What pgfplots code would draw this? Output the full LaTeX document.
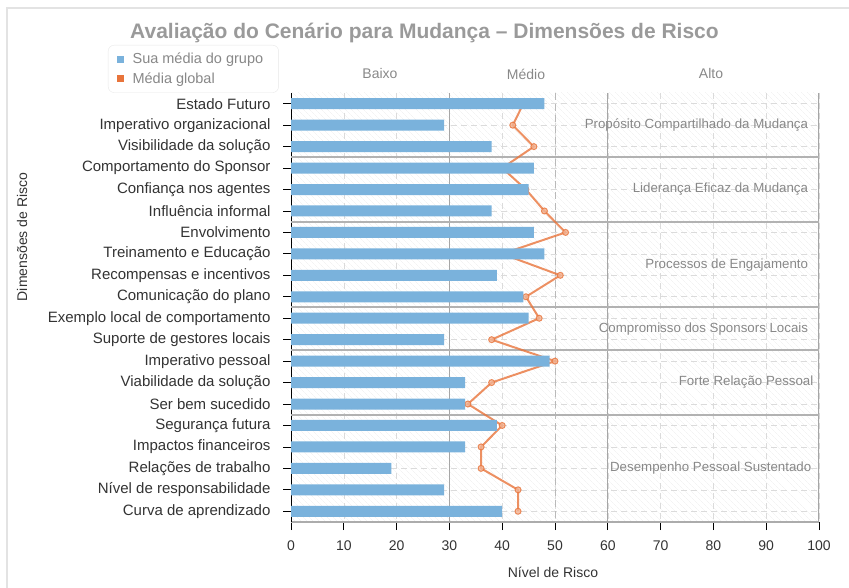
\documentclass[border=0pt]{standalone}
\usepackage{fontspec}
\setmainfont{Liberation Sans}
\usepackage{pgfplots}
\pgfplotsset{compat=1.18}
\usetikzlibrary{patterns.meta}
\definecolor{barblue}{HTML}{7AB2DC}
\definecolor{lineorange}{HTML}{E8743B}
\definecolor{titlegray}{HTML}{9A9A9A}
\definecolor{labgray}{HTML}{888888}
\definecolor{tickgray}{HTML}{333333}
\begin{document}
\begin{tikzpicture}[x=1pt,y=1pt]
\path[use as bounding box] (0,0) rectangle (849,588);
\draw[gray!22, line width=1.5pt] (7,0) -- (7,580) -- (849,580);
\node[font=\bfseries\fontsize{21}{24}\selectfont, text=titlegray] at (424.5,555) {Avaliação do Cenário para Mudança – Dimensões de Risco};
\node[rotate=90, font=\fontsize{14}{16}\selectfont, text=tickgray] at (22,351) {Dimensões de Risco};
\node[font=\fontsize{14}{16}\selectfont, text=tickgray] at (553,16) {Nível de Risco};
\node[font=\fontsize{14}{16}\selectfont, text=labgray] at (380,514) {Baixo};
\node[font=\fontsize{14}{16}\selectfont, text=labgray] at (526,514) {Médio};
\node[font=\fontsize{14}{16}\selectfont, text=labgray] at (711,514) {Alto};
\begin{axis}[
  at={(291pt,66pt)}, anchor=south west,
  width=528pt, height=429pt, scale only axis,
  xmin=0, xmax=100, ymin=0.5, ymax=20.5, y dir=reverse,
  xtick={0,10,...,100}, ytick={1,...,20},
  yticklabels={Estado Futuro, Imperativo organizacional, Visibilidade da solução, Comportamento do Sponsor, Confiança nos agentes, Influência informal, Envolvimento, Treinamento e Educação, Recompensas e incentivos, Comunicação do plano, Exemplo local de comportamento, Suporte de gestores locais, Imperativo pessoal, Viabilidade da solução, Ser bem sucedido, Segurança futura, Impactos financeiros, Relações de trabalho, Nível de responsabilidade, Curva de aprendizado},
  axis x line*=bottom, axis y line*=left,
  x axis line style={gray!65, line width=2pt},
  y axis line style={black, line width=0.9pt},
  tick align=outside, major tick length=8pt,
  tick style={black, line width=0.8pt},
  xmajorgrids, ymajorgrids,
  major grid style={gray!28, dash pattern=on 6pt off 4pt, line width=0.6pt},
  axis background/.style={pattern={Lines[angle=-45,distance=4pt,line width=0.4pt]}, pattern color=gray!15},
  /pgf/number format/assume math mode=true,
  xticklabel style={font=\fontsize{14}{16}\selectfont, text=tickgray, yshift=-7pt},
  yticklabel style={font=\fontsize{15}{17}\selectfont, text=tickgray, xshift=-9pt},
  legend style={at={(-0.3466,1.1119)}, anchor=north west, draw=gray!18, rounded corners=6pt, fill=white,
    font=\fontsize{14.5}{17}\selectfont, text=labgray, inner xsep=9pt, inner ysep=6pt, row sep=3pt},
  legend cell align=left,
  clip marker paths=true,
]
\addlegendimage{only marks, mark=square*, mark size=3.2pt, draw=barblue, fill=barblue, mark options={draw=barblue, fill=barblue}}
\addlegendentry{\makebox[142pt][l]{\hspace*{7pt}Sua média do grupo}}
\addlegendimage{only marks, mark=square*, mark size=3.2pt, draw=lineorange, fill=lineorange, mark options={draw=lineorange, fill=lineorange}}
\addlegendentry{\makebox[142pt][l]{\hspace*{7pt}Média global}}
% zone lines
\addplot[forget plot, gray!70, line width=1.1pt] coordinates {(30,0.5) (30,20.5)};
\addplot[forget plot, gray!70, line width=1.1pt] coordinates {(60,0.5) (60,20.5)};
\addplot[forget plot, gray!70, line width=1.1pt] coordinates {(100,0.5) (100,20.5)};
\addplot[forget plot, gray!55, line width=0.8pt, dash pattern=on 7pt off 4pt] coordinates {(50,0.5) (50,20.5)};
% group separators
\addplot[forget plot, gray!60, line width=2pt] coordinates {(0,3.5) (100,3.5)};
\addplot[forget plot, gray!60, line width=2pt] coordinates {(0,6.5) (100,6.5)};
\addplot[forget plot, gray!60, line width=2pt] coordinates {(0,10.5) (100,10.5)};
\addplot[forget plot, gray!60, line width=2pt] coordinates {(0,12.5) (100,12.5)};
\addplot[forget plot, gray!60, line width=2pt] coordinates {(0,15.5) (100,15.5)};
% global average
\addplot[forget plot, lineorange, opacity=0.8, line width=2pt, mark=*, mark size=3pt,
  mark options={fill=lineorange!55, draw=lineorange, line width=1pt}] coordinates {
  (44,1) (42,2) (46,3) (40,4) (44.5,5) (48,6) (52,7) (40,8) (51,9) (44.5,10)
  (47,11) (38,12) (50,13) (38,14) (33.5,15) (40,16) (36,17) (36,18) (43,19) (43,20)};
% group average bars
\addplot[forget plot, xbar, bar width=11pt, fill=barblue, draw=none] coordinates {
  (48,1) (29,2) (38,3) (46,4) (45,5) (38,6) (46,7) (48,8) (39,9) (44,10)
  (45,11) (29,12) (49,13) (33,14) (33,15) (39,16) (33,17) (19,18) (29,19) (40,20)};
% group labels
\begin{scope}[every node/.style={anchor=east, text=labgray, font=\fontsize{13.3}{15}\selectfont}]
\node at (axis cs:98.6,2) {Propósito Compartilhado da Mudança};
\node at (axis cs:98.6,5) {Liderança Eficaz da Mudança};
\node at (axis cs:98.6,8.5) {Processos de Engajamento};
\node at (axis cs:98.6,11.5) {Compromisso dos Sponsors Locais};
\node at (axis cs:99.6,14) {Forte Relação Pessoal};
\node at (axis cs:99.2,18) {Desempenho Pessoal Sustentado};
\end{scope}
\end{axis}
\end{tikzpicture}
\end{document}
